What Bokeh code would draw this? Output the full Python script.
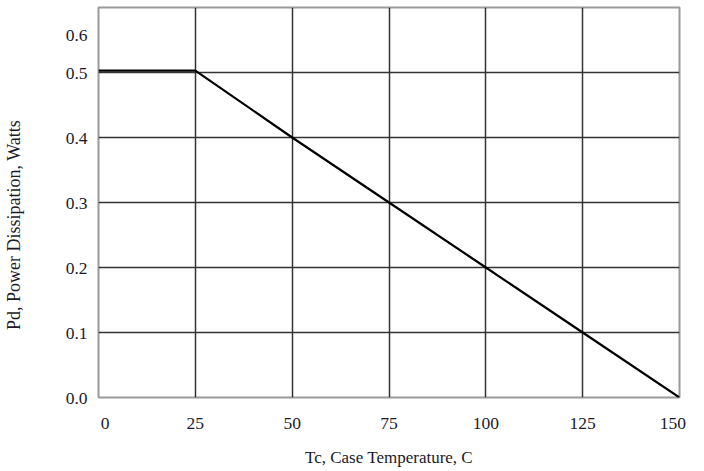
from bokeh.plotting import figure
from bokeh.models import FixedTicker, PrintfTickFormatter, Range1d
from bokeh.embed import file_html
from bokeh.resources import INLINE

# Data
temps = [0, 25, 50, 75, 100, 125, 150]
power = [0.503, 0.503, 0.40, 0.30, 0.20, 0.10, 0.0]
x_ticks = [0, 25, 50, 75, 100, 125, 150]
y_ticks = [0.0, 0.1, 0.2, 0.3, 0.4, 0.5, 0.6]

FONT = "Liberation Serif"
NB = "\u00a0"
TXT = "#1a1a2a"

p = figure(width=704, height=471, output_backend="svg", toolbar_location=None,
           x_range=Range1d(0, 150), y_range=Range1d(0, 0.6),
           min_border_left=96, min_border_right=25, min_border_top=7, min_border_bottom=74)

p.outline_line_color = "#9a9a9a"
p.outline_line_width = 2

for ax in (p.xaxis, p.yaxis):
    ax.axis_line_color = None
    ax.major_tick_line_color = None
    ax.minor_tick_line_color = None
    ax.major_label_text_font = FONT
    ax.major_label_text_font_size = "17.5px"
    ax.major_label_text_color = TXT
    ax.axis_label_text_font = FONT
    ax.axis_label_text_font_style = "normal"
    ax.axis_label_text_color = TXT

p.xaxis.axis_label_text_font_size = "17px"
p.yaxis.axis_label_text_font_size = "18px"

p.xaxis.ticker = FixedTicker(ticks=x_ticks)
p.yaxis.ticker = FixedTicker(ticks=y_ticks)
p.yaxis.formatter = PrintfTickFormatter(format="%.1f")
p.xaxis.major_label_overrides = {0: NB * 3 + "0", 150: "150" + NB * 3}
p.yaxis.major_label_overrides = {0.6: "\n0.6"}
p.xaxis.axis_label = "Tc, Case Temperature, C"
p.yaxis.axis_label = "Pd, Power Dissipation, Watts" + NB * 10
p.xaxis.major_label_standoff = 9
p.xaxis.axis_label_standoff = 12
p.yaxis.major_label_standoff = 5
p.yaxis.axis_label_standoff = 39

p.xgrid.grid_line_color = "#333333"
p.ygrid.grid_line_color = "#333333"
p.xgrid.grid_line_width = 1.5
p.ygrid.grid_line_width = 1.5

p.line(temps, power, line_color="black", line_width=2.2)

open("out.html", "w").write(file_html(p, INLINE))
